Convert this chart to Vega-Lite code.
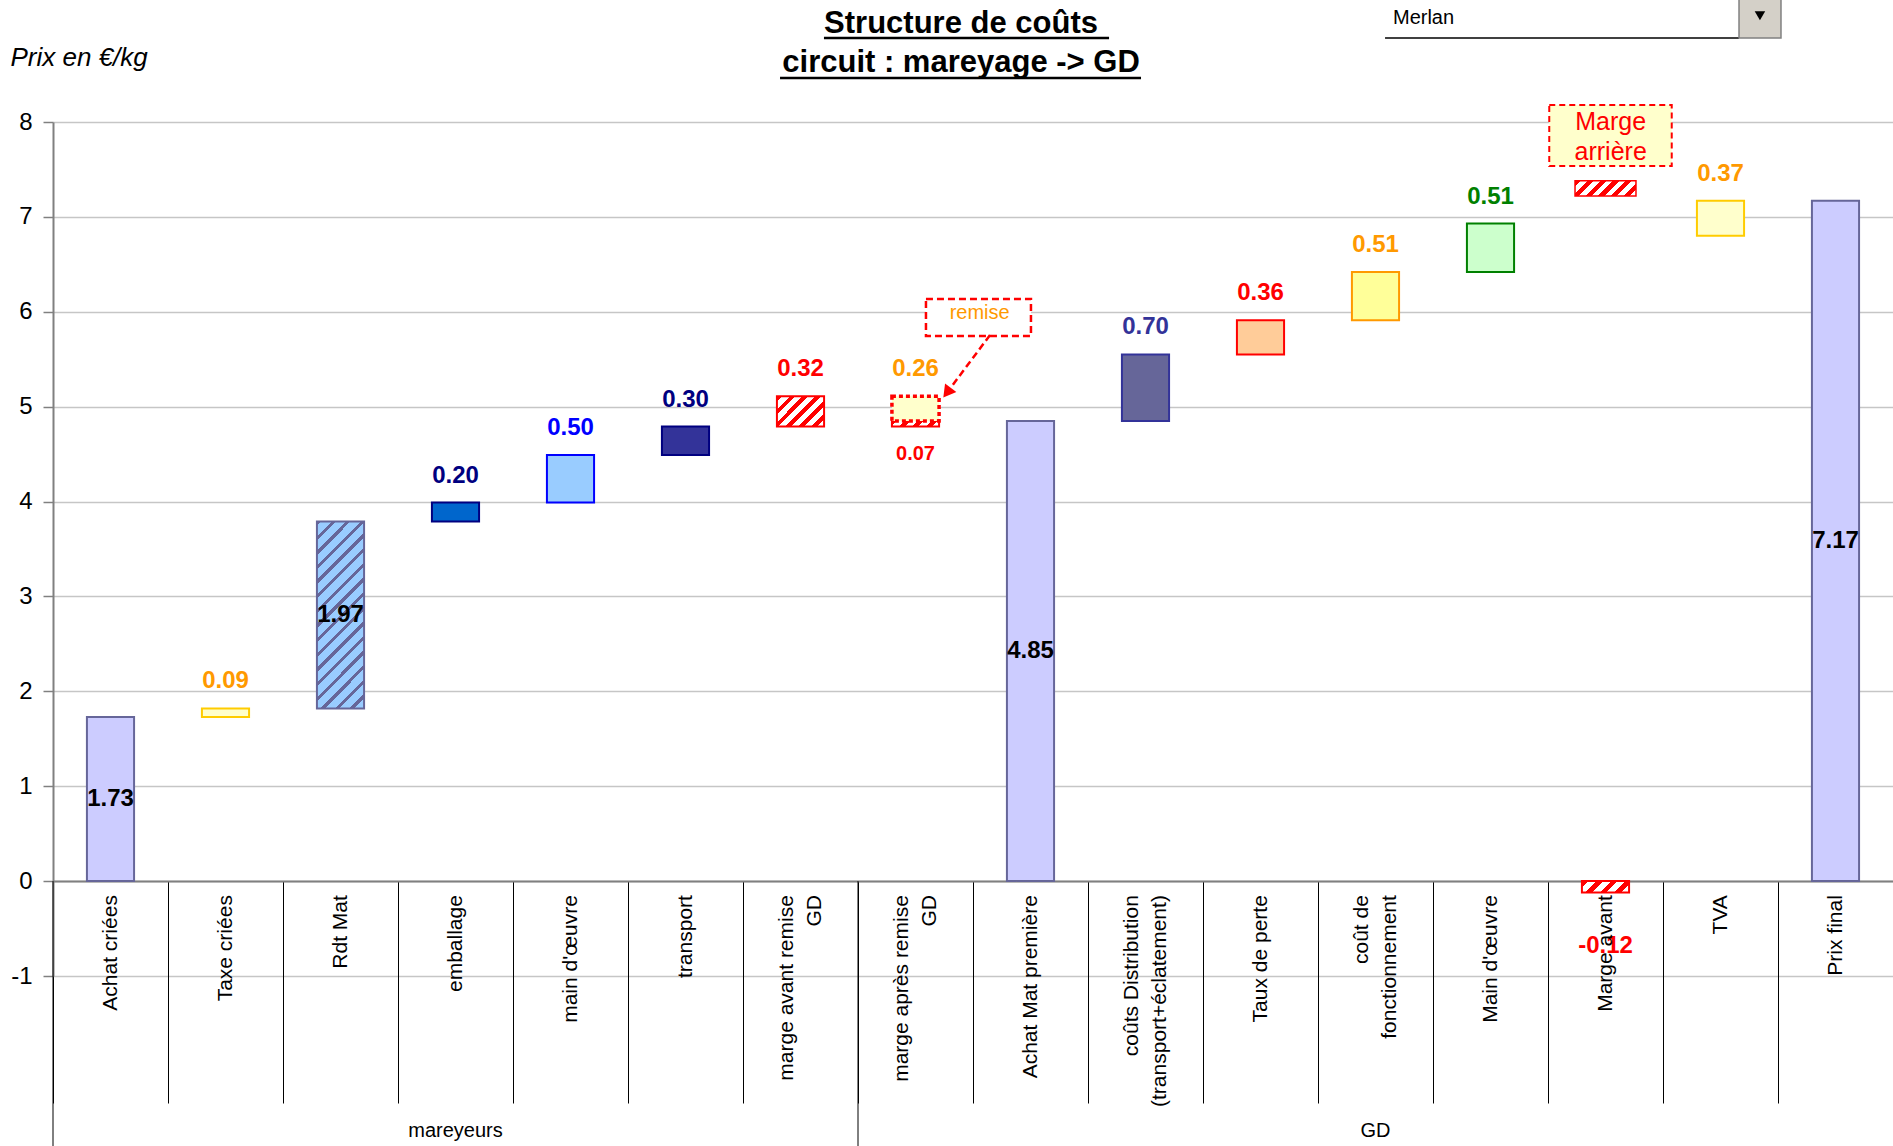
{
  "$schema": "https://vega.github.io/schema/vega-lite/v6.json",
  "autosize": {"type": "none"},
  "padding": {"left": 53, "top": 122, "right": 0, "bottom": 170},
  "width": 1840,
  "height": 854,
  "background": "white",
  "config": {
    "font": "Liberation Sans",
    "view": {"stroke": null},
    "locale": {"number": {"decimal": ".", "thousands": ",", "grouping": [3], "currency": ["", " €"], "minus": "-"}}
  },
  "datasets": {
    "barres": [
      {"poste": "Achat criées", "segment": "Achat criées", "debut": 0, "fin": 1.73, "valeur": 1.73},
      {"poste": "Taxe criées", "segment": "Taxe criées", "debut": 1.73, "fin": 1.82, "valeur": 0.09},
      {"poste": "Rdt Mat", "segment": "Rdt Mat", "debut": 1.82, "fin": 3.79, "valeur": 1.97},
      {"poste": "emballage", "segment": "emballage", "debut": 3.79, "fin": 3.99, "valeur": 0.20},
      {"poste": "main d'œuvre", "segment": "main d'œuvre mareyeur", "debut": 3.99, "fin": 4.49, "valeur": 0.50},
      {"poste": "transport", "segment": "transport", "debut": 4.49, "fin": 4.79, "valeur": 0.30},
      {"poste": "marge avant remise\nGD", "segment": "marge avant remise GD", "debut": 4.79, "fin": 5.11, "valeur": 0.32},
      {"poste": "marge après remise\nGD", "segment": "marge après remise GD", "debut": 4.79, "fin": 4.86, "valeur": 0.07},
      {"poste": "marge après remise\nGD", "segment": "remise GD", "debut": 4.85, "fin": 5.11, "valeur": 0.26},
      {"poste": "Achat Mat première", "segment": "Achat Mat première", "debut": 0, "fin": 4.85, "valeur": 4.85},
      {"poste": "coûts Distribution\n(transport+éclatement)", "segment": "coûts Distribution", "debut": 4.85, "fin": 5.55, "valeur": 0.70},
      {"poste": "Taux de perte", "segment": "Taux de perte", "debut": 5.55, "fin": 5.91, "valeur": 0.36},
      {"poste": "coût de\nfonctionnement", "segment": "coût de fonctionnement", "debut": 5.91, "fin": 6.42, "valeur": 0.51},
      {"poste": "Main d'œuvre", "segment": "Main d'œuvre GD", "debut": 6.42, "fin": 6.93, "valeur": 0.51},
      {"poste": "Marge avant", "segment": "Marge avant", "debut": 0, "fin": -0.12, "valeur": -0.12},
      {"poste": "Marge avant", "segment": "Marge arrière", "debut": 7.22, "fin": 7.38, "valeur": 0.16},
      {"poste": "TVA", "segment": "TVA", "debut": 6.80, "fin": 7.17, "valeur": 0.37},
      {"poste": "Prix final", "segment": "Prix final", "debut": 0, "fin": 7.17, "valeur": 7.17}
    ],
    "groupes": [
      {"groupe": "mareyeurs", "debut": 0, "fin": 7},
      {"groupe": "GD", "debut": 7, "fin": 16}
    ]
  },
  "layer": [
    {
      "data": {"name": "barres"},
      "encoding": {
        "x": {
          "field": "poste",
          "type": "nominal",
          "sort": null,
          "scale": {
            "domain": ["Achat criées", "Taxe criées", "Rdt Mat", "emballage", "main d'œuvre", "transport", "marge avant remise\nGD", "marge après remise\nGD", "Achat Mat première", "coûts Distribution\n(transport+éclatement)", "Taux de perte", "coût de\nfonctionnement", "Main d'œuvre", "Marge avant", "TVA", "Prix final"],
            "paddingInner": 0,
            "paddingOuter": 0
          },
          "axis": {
            "title": null,
            "orient": "bottom",
            "offset": -95,
            "grid": false,
            "domainColor": "#808080",
            "domainWidth": 2,
            "ticks": true,
            "tickBand": "extent",
            "tickSize": 222,
            "tickColor": "black",
            "tickWidth": 1,
            "labels": false
          }
        }
      },
      "layer": [
        {
          "transform": [{"filter": {"field": "segment", "equal": "Rdt Mat"}}],
          "mark": {
            "type": "bar",
            "width": {"band": 0.41},
            "stroke": "#666699",
            "strokeWidth": 2,
            "fill": {
              "gradient": "linear", "x1": 0, "y1": 0, "x2": 0.2979, "y2": 1.1776,
              "stops": [
                {"offset": 0, "color": "#666699"}, {"offset": 0.01875, "color": "#666699"}, {"offset": 0.01875, "color": "#99CCFF"}, {"offset": 0.0625, "color": "#99CCFF"},
                {"offset": 0.0625, "color": "#666699"}, {"offset": 0.08125, "color": "#666699"}, {"offset": 0.08125, "color": "#99CCFF"}, {"offset": 0.125, "color": "#99CCFF"},
                {"offset": 0.125, "color": "#666699"}, {"offset": 0.14375, "color": "#666699"}, {"offset": 0.14375, "color": "#99CCFF"}, {"offset": 0.1875, "color": "#99CCFF"},
                {"offset": 0.1875, "color": "#666699"}, {"offset": 0.20625, "color": "#666699"}, {"offset": 0.20625, "color": "#99CCFF"}, {"offset": 0.25, "color": "#99CCFF"},
                {"offset": 0.25, "color": "#666699"}, {"offset": 0.26875, "color": "#666699"}, {"offset": 0.26875, "color": "#99CCFF"}, {"offset": 0.3125, "color": "#99CCFF"},
                {"offset": 0.3125, "color": "#666699"}, {"offset": 0.33125, "color": "#666699"}, {"offset": 0.33125, "color": "#99CCFF"}, {"offset": 0.375, "color": "#99CCFF"},
                {"offset": 0.375, "color": "#666699"}, {"offset": 0.39375, "color": "#666699"}, {"offset": 0.39375, "color": "#99CCFF"}, {"offset": 0.4375, "color": "#99CCFF"},
                {"offset": 0.4375, "color": "#666699"}, {"offset": 0.45625, "color": "#666699"}, {"offset": 0.45625, "color": "#99CCFF"}, {"offset": 0.5, "color": "#99CCFF"},
                {"offset": 0.5, "color": "#666699"}, {"offset": 0.51875, "color": "#666699"}, {"offset": 0.51875, "color": "#99CCFF"}, {"offset": 0.5625, "color": "#99CCFF"},
                {"offset": 0.5625, "color": "#666699"}, {"offset": 0.58125, "color": "#666699"}, {"offset": 0.58125, "color": "#99CCFF"}, {"offset": 0.625, "color": "#99CCFF"},
                {"offset": 0.625, "color": "#666699"}, {"offset": 0.64375, "color": "#666699"}, {"offset": 0.64375, "color": "#99CCFF"}, {"offset": 0.6875, "color": "#99CCFF"},
                {"offset": 0.6875, "color": "#666699"}, {"offset": 0.70625, "color": "#666699"}, {"offset": 0.70625, "color": "#99CCFF"}, {"offset": 0.75, "color": "#99CCFF"},
                {"offset": 0.75, "color": "#666699"}, {"offset": 0.76875, "color": "#666699"}, {"offset": 0.76875, "color": "#99CCFF"}, {"offset": 0.8125, "color": "#99CCFF"},
                {"offset": 0.8125, "color": "#666699"}, {"offset": 0.83125, "color": "#666699"}, {"offset": 0.83125, "color": "#99CCFF"}, {"offset": 0.875, "color": "#99CCFF"},
                {"offset": 0.875, "color": "#666699"}, {"offset": 0.89375, "color": "#666699"}, {"offset": 0.89375, "color": "#99CCFF"}, {"offset": 0.9375, "color": "#99CCFF"},
                {"offset": 0.9375, "color": "#666699"}, {"offset": 0.95625, "color": "#666699"}, {"offset": 0.95625, "color": "#99CCFF"}, {"offset": 1, "color": "#99CCFF"}
              ]
            }
          },
          "encoding": {
            "y": {"field": "debut", "type": "quantitative", "scale": {"domain": [-1, 8], "nice": false, "zero": false}},
            "y2": {"field": "fin"}
          }
        },
        {
          "transform": [{"filter": {"field": "segment", "equal": "marge avant remise GD"}}],
          "mark": {
            "type": "bar",
            "width": {"band": 0.41},
            "stroke": "#FF0000",
            "strokeWidth": 2,
            "fill": {
              "gradient": "linear", "x1": 0, "y1": 0, "x2": 1.1624, "y2": 0.7476,
              "stops": [
                {"offset": 0, "color": "#FF0000"}, {"offset": 0.075, "color": "#FF0000"}, {"offset": 0.075, "color": "#FFFFFF"}, {"offset": 0.16667, "color": "#FFFFFF"},
                {"offset": 0.16667, "color": "#FF0000"}, {"offset": 0.24167, "color": "#FF0000"}, {"offset": 0.24167, "color": "#FFFFFF"}, {"offset": 0.33333, "color": "#FFFFFF"},
                {"offset": 0.33333, "color": "#FF0000"}, {"offset": 0.40833, "color": "#FF0000"}, {"offset": 0.40833, "color": "#FFFFFF"}, {"offset": 0.5, "color": "#FFFFFF"},
                {"offset": 0.5, "color": "#FF0000"}, {"offset": 0.575, "color": "#FF0000"}, {"offset": 0.575, "color": "#FFFFFF"}, {"offset": 0.66667, "color": "#FFFFFF"},
                {"offset": 0.66667, "color": "#FF0000"}, {"offset": 0.74167, "color": "#FF0000"}, {"offset": 0.74167, "color": "#FFFFFF"}, {"offset": 0.83333, "color": "#FFFFFF"},
                {"offset": 0.83333, "color": "#FF0000"}, {"offset": 0.90833, "color": "#FF0000"}, {"offset": 0.90833, "color": "#FFFFFF"}, {"offset": 1, "color": "#FFFFFF"}
              ]
            }
          },
          "encoding": {
            "y": {"field": "debut", "type": "quantitative", "scale": {"domain": [-1, 8], "nice": false, "zero": false}},
            "y2": {"field": "fin"}
          }
        },
        {
          "transform": [{"filter": {"field": "segment", "equal": "marge après remise GD"}}],
          "mark": {
            "type": "bar",
            "width": {"band": 0.41},
            "stroke": "#FF0000",
            "strokeWidth": 2,
            "fill": {
              "gradient": "linear", "x1": 0, "y1": 0, "x2": 1.1186, "y2": 0.1574,
              "stops": [
                {"offset": 0, "color": "#FF0000"}, {"offset": 0.1125, "color": "#FF0000"}, {"offset": 0.1125, "color": "#FFFFFF"}, {"offset": 0.25, "color": "#FFFFFF"},
                {"offset": 0.25, "color": "#FF0000"}, {"offset": 0.3625, "color": "#FF0000"}, {"offset": 0.3625, "color": "#FFFFFF"}, {"offset": 0.5, "color": "#FFFFFF"},
                {"offset": 0.5, "color": "#FF0000"}, {"offset": 0.6125, "color": "#FF0000"}, {"offset": 0.6125, "color": "#FFFFFF"}, {"offset": 0.75, "color": "#FFFFFF"},
                {"offset": 0.75, "color": "#FF0000"}, {"offset": 0.8625, "color": "#FF0000"}, {"offset": 0.8625, "color": "#FFFFFF"}, {"offset": 1, "color": "#FFFFFF"}
              ]
            }
          },
          "encoding": {
            "y": {"field": "debut", "type": "quantitative", "scale": {"domain": [-1, 8], "nice": false, "zero": false}},
            "y2": {"field": "fin"}
          }
        },
        {
          "transform": [{"filter": {"field": "segment", "equal": "Marge avant"}}],
          "mark": {
            "type": "bar",
            "width": {"band": 0.41},
            "stroke": "#FF0000",
            "strokeWidth": 2,
            "fill": {
              "gradient": "linear", "x1": 0, "y1": 0, "x2": 1.1731, "y2": 0.2831,
              "stops": [
                {"offset": 0, "color": "#FF0000"}, {"offset": 0.1125, "color": "#FF0000"}, {"offset": 0.1125, "color": "#FFFFFF"}, {"offset": 0.25, "color": "#FFFFFF"},
                {"offset": 0.25, "color": "#FF0000"}, {"offset": 0.3625, "color": "#FF0000"}, {"offset": 0.3625, "color": "#FFFFFF"}, {"offset": 0.5, "color": "#FFFFFF"},
                {"offset": 0.5, "color": "#FF0000"}, {"offset": 0.6125, "color": "#FF0000"}, {"offset": 0.6125, "color": "#FFFFFF"}, {"offset": 0.75, "color": "#FFFFFF"},
                {"offset": 0.75, "color": "#FF0000"}, {"offset": 0.8625, "color": "#FF0000"}, {"offset": 0.8625, "color": "#FFFFFF"}, {"offset": 1, "color": "#FFFFFF"}
              ]
            }
          },
          "encoding": {
            "y": {"field": "debut", "type": "quantitative", "scale": {"domain": [-1, 8], "nice": false, "zero": false}},
            "y2": {"field": "fin"}
          }
        },
        {
          "transform": [{"filter": {"field": "segment", "equal": "Marge arrière"}}],
          "mark": {
            "type": "bar",
            "width": {"band": 0.53},
            "stroke": "#FF0000",
            "strokeWidth": 1.5,
            "fill": {
              "gradient": "linear", "x1": 0, "y1": 0, "x2": 1.1761, "y2": 0.2929,
              "stops": [
                {"offset": 0, "color": "#FF0000"}, {"offset": 0.08, "color": "#FF0000"}, {"offset": 0.08, "color": "#FFFFFF"}, {"offset": 0.16667, "color": "#FFFFFF"},
                {"offset": 0.16667, "color": "#FF0000"}, {"offset": 0.24667, "color": "#FF0000"}, {"offset": 0.24667, "color": "#FFFFFF"}, {"offset": 0.33333, "color": "#FFFFFF"},
                {"offset": 0.33333, "color": "#FF0000"}, {"offset": 0.41333, "color": "#FF0000"}, {"offset": 0.41333, "color": "#FFFFFF"}, {"offset": 0.5, "color": "#FFFFFF"},
                {"offset": 0.5, "color": "#FF0000"}, {"offset": 0.58, "color": "#FF0000"}, {"offset": 0.58, "color": "#FFFFFF"}, {"offset": 0.66667, "color": "#FFFFFF"},
                {"offset": 0.66667, "color": "#FF0000"}, {"offset": 0.74667, "color": "#FF0000"}, {"offset": 0.74667, "color": "#FFFFFF"}, {"offset": 0.83333, "color": "#FFFFFF"},
                {"offset": 0.83333, "color": "#FF0000"}, {"offset": 0.91333, "color": "#FF0000"}, {"offset": 0.91333, "color": "#FFFFFF"}, {"offset": 1, "color": "#FFFFFF"}
              ]
            }
          },
          "encoding": {
            "y": {"field": "debut", "type": "quantitative", "scale": {"domain": [-1, 8], "nice": false, "zero": false}},
            "y2": {"field": "fin"}
          }
        },
        {
          "transform": [{"filter": {"not": {"field": "segment", "oneOf": ["Rdt Mat", "marge avant remise GD", "marge après remise GD", "Marge avant", "Marge arrière"]}}}],
          "mark": {"type": "bar", "width": {"band": 0.41}, "strokeWidth": 2},
          "encoding": {
            "y": {
              "field": "debut",
              "type": "quantitative",
              "scale": {"domain": [-1, 8], "nice": false, "zero": false},
              "axis": {
                "values": [-1, 0, 1, 2, 3, 4, 5, 6, 7, 8],
                "format": "d",
                "title": "Prix en €/kg",
                "titleAngle": 0,
                "titleAlign": "left",
                "titleBaseline": "middle",
                "titleX": -43,
                "titleY": -65,
                "titleFontSize": 26,
                "titleFontStyle": "italic",
                "titleFontWeight": "normal",
                "titleColor": "black",
                "grid": true,
                "gridColor": "#C6C6C6",
                "gridWidth": 1.5,
                "domainColor": "#808080",
                "domainWidth": 2,
                "tickColor": "#808080",
                "tickSize": 10,
                "tickWidth": 1.5,
                "labelFontSize": 24,
                "labelColor": "black",
                "labelPadding": 11
              }
            },
            "y2": {"field": "fin"},
            "fill": {
              "field": "segment",
              "type": "nominal",
              "legend": null,
              "scale": {
                "domain": ["Achat criées", "Taxe criées", "emballage", "main d'œuvre mareyeur", "transport", "remise GD", "Achat Mat première", "coûts Distribution", "Taux de perte", "coût de fonctionnement", "Main d'œuvre GD", "TVA", "Prix final"],
                "range": ["#CCCCFF", "#FFFFCC", "#0066CC", "#99CCFF", "#333399", "#FFFFCC", "#CCCCFF", "#666699", "#FFCC99", "#FFFF99", "#CCFFCC", "#FFFFCC", "#CCCCFF"]
              }
            },
            "stroke": {
              "field": "segment",
              "type": "nominal",
              "legend": null,
              "scale": {
                "domain": ["Achat criées", "Taxe criées", "emballage", "main d'œuvre mareyeur", "transport", "remise GD", "Achat Mat première", "coûts Distribution", "Taux de perte", "coût de fonctionnement", "Main d'œuvre GD", "TVA", "Prix final"],
                "range": ["#666699", "#FFCC00", "#000080", "#0000FF", "#000080", "#FF0000", "#666699", "#333399", "#FF0000", "#FF9900", "#008000", "#FFCC00", "#666699"]
              }
            },
            "strokeDash": {"condition": {"test": "datum.segment === 'remise GD'", "value": [4, 3]}, "value": [1, 0]},
            "strokeWidth": {"condition": {"test": "datum.segment === 'remise GD'", "value": 3.5}, "value": 2}
          }
        },
        {
          "transform": [{"filter": {"not": {"field": "segment", "oneOf": ["Achat criées", "Rdt Mat", "Achat Mat première", "Prix final", "marge après remise GD", "Marge avant", "Marge arrière"]}}}],
          "mark": {"type": "text", "fontSize": 24, "fontWeight": "bold", "baseline": "middle", "dy": -27},
          "encoding": {
            "y": {"field": "fin", "type": "quantitative"},
            "text": {"field": "valeur", "type": "quantitative", "format": ".2f"},
            "color": {
              "field": "segment",
              "type": "nominal",
              "legend": null,
              "scale": {
                "domain": ["Achat criées", "Taxe criées", "Rdt Mat", "emballage", "main d'œuvre mareyeur", "transport", "marge avant remise GD", "marge après remise GD", "remise GD", "Achat Mat première", "coûts Distribution", "Taux de perte", "coût de fonctionnement", "Main d'œuvre GD", "Marge avant", "Marge arrière", "TVA", "Prix final"],
                "range": ["#000000", "#FF9900", "#000000", "#000080", "#0000FF", "#000080", "#FF0000", "#FF0000", "#FF9900", "#000000", "#333399", "#FF0000", "#FF9900", "#008000", "#FF0000", "#FF0000", "#FF9900", "#000000"]
              }
            }
          }
        },
        {
          "transform": [
            {"filter": {"field": "segment", "oneOf": ["Achat criées", "Rdt Mat", "Achat Mat première", "Prix final"]}},
            {"calculate": "(datum.debut + datum.fin) / 2", "as": "milieu"}
          ],
          "mark": {"type": "text", "fontSize": 24, "fontWeight": "bold", "baseline": "middle", "color": "black"},
          "encoding": {
            "y": {"field": "milieu", "type": "quantitative"},
            "text": {"field": "valeur", "type": "quantitative", "format": ".2f"}
          }
        },
        {
          "transform": [{"filter": {"field": "segment", "equal": "marge après remise GD"}}],
          "mark": {"type": "text", "fontSize": 20, "fontWeight": "bold", "baseline": "middle", "dy": 27, "color": "#FF0000"},
          "encoding": {
            "y": {"field": "debut", "type": "quantitative"},
            "text": {"field": "valeur", "type": "quantitative", "format": ".2f"}
          }
        },
        {
          "transform": [{"filter": {"field": "segment", "equal": "Marge avant"}}],
          "mark": {"type": "text", "fontSize": 24, "fontWeight": "bold", "baseline": "middle", "dy": 54, "color": "#FF0000"},
          "encoding": {
            "y": {"field": "fin", "type": "quantitative"},
            "text": {"field": "valeur", "type": "quantitative", "format": ".2f"}
          }
        },
        {
          "transform": [
            {"filter": {"not": {"field": "segment", "oneOf": ["remise GD", "Marge arrière"]}}},
            {"filter": "indexof(datum.poste, '\\n') < 0"}
          ],
          "mark": {"type": "text", "fontSize": 21, "angle": 270, "align": "right", "baseline": "middle", "dx": -14, "color": "black"},
          "encoding": {
            "y": {"datum": 0, "type": "quantitative"},
            "text": {"field": "poste", "type": "nominal"}
          }
        },
        {
          "transform": [
            {"filter": {"not": {"field": "segment", "oneOf": ["remise GD", "Marge arrière"]}}},
            {"filter": "indexof(datum.poste, '\\n') >= 0"},
            {"calculate": "split(datum.poste, '\\n')", "as": "lignes"}
          ],
          "mark": {"type": "text", "fontSize": 21, "angle": 270, "align": "right", "baseline": "middle", "lineHeight": 28, "dx": -14, "dy": -14, "color": "black"},
          "encoding": {
            "y": {"datum": 0, "type": "quantitative"},
            "text": {"field": "lignes", "type": "nominal"}
          }
        }
      ]
    },
    {
      "layer": [
        {
          "data": {"name": "groupes"},
          "mark": {"type": "rule", "stroke": "black", "strokeWidth": 1},
          "encoding": {
            "x": {"field": "debut", "type": "quantitative", "scale": {"domain": [0, 16], "nice": false, "zero": false}, "axis": null},
            "y": {"datum": 0, "type": "quantitative"},
            "y2": {"datum": -2.85}
          }
        },
        {
          "data": {"name": "groupes"},
          "transform": [{"calculate": "(datum.debut + datum.fin) / 2", "as": "milieu"}],
          "mark": {"type": "text", "fontSize": 20, "baseline": "middle", "color": "black"},
          "encoding": {
            "x": {"field": "milieu", "type": "quantitative", "scale": {"domain": [0, 16], "nice": false, "zero": false}, "axis": null},
            "y": {"datum": -2.633, "type": "quantitative"},
            "text": {"field": "groupe"}
          }
        },
        {
          "data": {"values": [{}]},
          "mark": {"type": "text", "fontSize": 31, "fontWeight": "bold", "baseline": "middle", "lineHeight": 39, "color": "black"},
          "encoding": {
            "x": {"datum": 7.896, "type": "quantitative", "scale": {"domain": [0, 16], "nice": false, "zero": false}, "axis": null},
            "y": {"datum": 9.033, "type": "quantitative"},
            "text": {"value": ["Structure de coûts", "circuit : mareyage -> GD"]}
          }
        },
        {
          "data": {"values": [{}]},
          "mark": {"type": "rule", "stroke": "black", "strokeWidth": 2.5},
          "encoding": {
            "x": {"datum": 6.704, "type": "quantitative", "scale": {"domain": [0, 16], "nice": false, "zero": false}, "axis": null},
            "x2": {"datum": 9.183},
            "y": {"datum": 8.885, "type": "quantitative"}
          }
        },
        {
          "data": {"values": [{}]},
          "mark": {"type": "rule", "stroke": "black", "strokeWidth": 2.5},
          "encoding": {
            "x": {"datum": 6.322, "type": "quantitative", "scale": {"domain": [0, 16], "nice": false, "zero": false}, "axis": null},
            "x2": {"datum": 9.461},
            "y": {"datum": 8.464, "type": "quantitative"}
          }
        },
        {
          "data": {"values": [{}]},
          "mark": {"type": "rect", "fill": "white", "stroke": "#FF0000", "strokeWidth": 2.5, "strokeDash": [7, 4]},
          "encoding": {
            "x": {"datum": 7.591, "type": "quantitative", "scale": {"domain": [0, 16], "nice": false, "zero": false}, "axis": null},
            "x2": {"datum": 8.504},
            "y": {"datum": 6.135, "type": "quantitative"},
            "y2": {"datum": 5.745}
          }
        },
        {
          "data": {"values": [{}]},
          "mark": {"type": "text", "fontSize": 20, "baseline": "middle", "color": "#FF9900"},
          "encoding": {
            "x": {"datum": 8.058, "type": "quantitative", "scale": {"domain": [0, 16], "nice": false, "zero": false}, "axis": null},
            "y": {"datum": 5.987, "type": "quantitative"},
            "text": {"value": "remise"}
          }
        },
        {
          "data": {"values": [{}]},
          "mark": {"type": "rule", "stroke": "#FF0000", "strokeWidth": 2.5, "strokeDash": [7, 4]},
          "encoding": {
            "x": {"datum": 8.148, "type": "quantitative", "scale": {"domain": [0, 16], "nice": false, "zero": false}, "axis": null},
            "x2": {"datum": 7.817},
            "y": {"datum": 5.755, "type": "quantitative"},
            "y2": {"datum": 5.218}
          }
        },
        {
          "data": {"values": [{}]},
          "mark": {"type": "point", "shape": "triangle-down", "angle": 37, "size": 200, "filled": true, "color": "#FF0000", "opacity": 1},
          "encoding": {
            "x": {"datum": 7.774, "type": "quantitative", "scale": {"domain": [0, 16], "nice": false, "zero": false}, "axis": null},
            "y": {"datum": 5.147, "type": "quantitative"}
          }
        },
        {
          "data": {"values": [{}]},
          "mark": {"type": "rect", "fill": "#FFFFCC", "stroke": "#FF0000", "strokeWidth": 2, "strokeDash": [6, 4]},
          "encoding": {
            "x": {"datum": 13.011, "type": "quantitative", "scale": {"domain": [0, 16], "nice": false, "zero": false}, "axis": null},
            "x2": {"datum": 14.076},
            "y": {"datum": 8.179, "type": "quantitative"},
            "y2": {"datum": 7.536}
          }
        },
        {
          "data": {"values": [{}]},
          "mark": {"type": "text", "fontSize": 25, "baseline": "middle", "lineHeight": 30, "color": "#FF0000"},
          "encoding": {
            "x": {"datum": 13.545, "type": "quantitative", "scale": {"domain": [0, 16], "nice": false, "zero": false}, "axis": null},
            "y": {"datum": 8.003, "type": "quantitative"},
            "text": {"value": ["Marge", "arrière"]}
          }
        },
        {
          "data": {"values": [{}]},
          "mark": {"type": "rule", "stroke": "black", "strokeWidth": 1.5},
          "encoding": {
            "x": {"datum": 11.583, "type": "quantitative", "scale": {"domain": [0, 16], "nice": false, "zero": false}, "axis": null},
            "x2": {"datum": 14.661},
            "y": {"datum": 8.885, "type": "quantitative"}
          }
        },
        {
          "data": {"values": [{}]},
          "mark": {"type": "rect", "fill": "#D4D0C8", "stroke": "#808080", "strokeWidth": 1.5},
          "encoding": {
            "x": {"datum": 14.661, "type": "quantitative", "scale": {"domain": [0, 16], "nice": false, "zero": false}, "axis": null},
            "x2": {"datum": 15.026},
            "y": {"datum": 9.3, "type": "quantitative"},
            "y2": {"datum": 8.885}
          }
        },
        {
          "data": {"values": [{}]},
          "mark": {"type": "point", "shape": "triangle-down", "size": 110, "filled": true, "color": "black", "opacity": 1},
          "encoding": {
            "x": {"datum": 14.843, "type": "quantitative", "scale": {"domain": [0, 16], "nice": false, "zero": false}, "axis": null},
            "y": {"datum": 9.12, "type": "quantitative"}
          }
        },
        {
          "data": {"values": [{}]},
          "mark": {"type": "text", "fontSize": 20, "align": "left", "baseline": "middle", "color": "black"},
          "encoding": {
            "x": {"datum": 11.652, "type": "quantitative", "scale": {"domain": [0, 16], "nice": false, "zero": false}, "axis": null},
            "y": {"datum": 9.1, "type": "quantitative"},
            "text": {"value": "Merlan"}
          }
        }
      ]
    }
  ],
  "resolve": {"scale": {"x": "independent"}}
}
